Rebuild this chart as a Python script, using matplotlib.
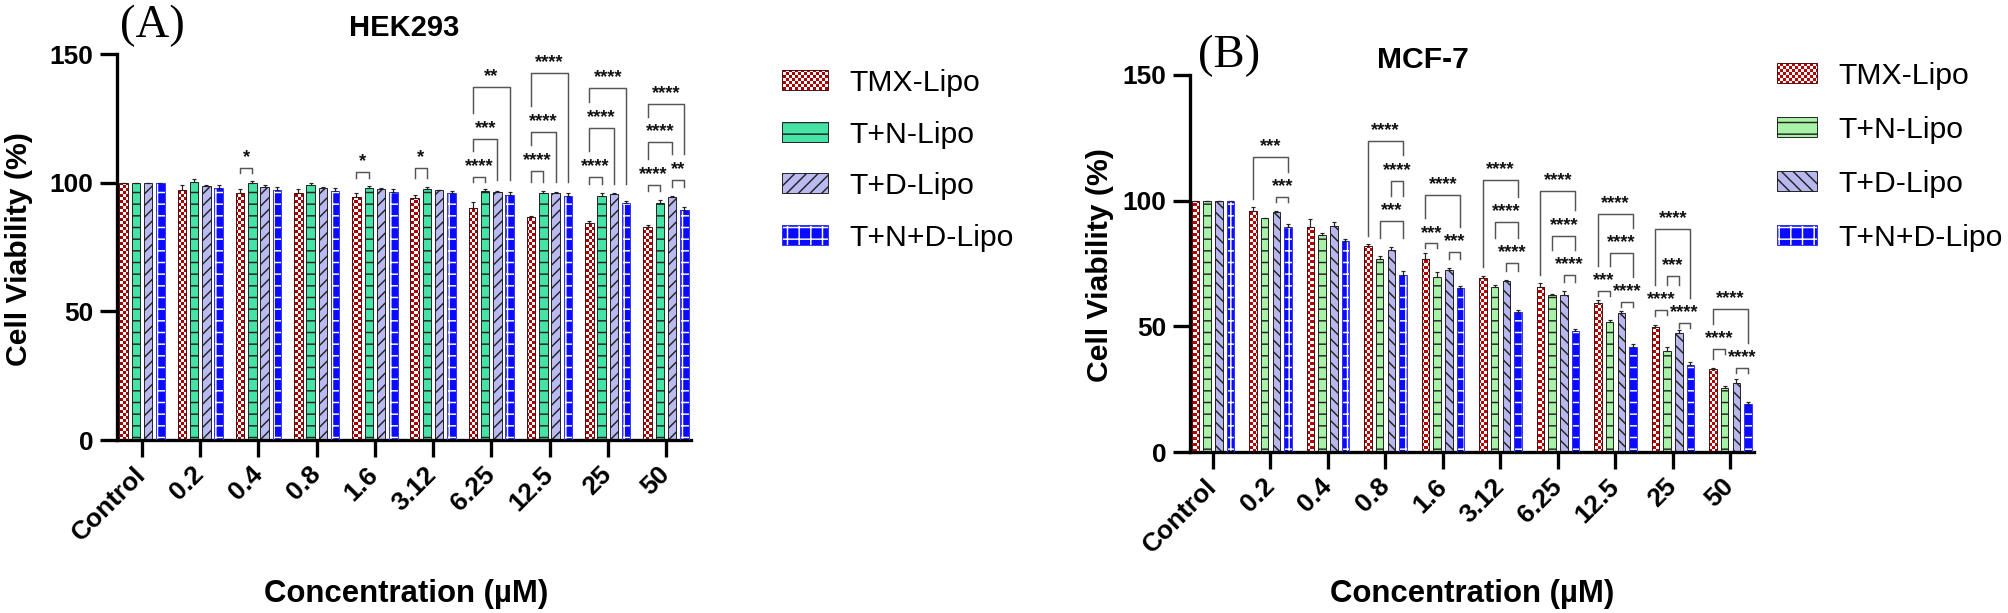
import numpy as np
import matplotlib.pyplot as plt
import matplotlib.colors as mcolors

plt.rcParams['font.family'] = ['Liberation Sans', 'DejaVu Sans']
plt.rcParams['font.weight'] = 'bold'
plt.rcParams['hatch.linewidth'] = 1.5

concentrations = ['Control', '0.2', '0.4', '0.8', '1.6', '3.12', '6.25', '12.5', '25', '50']
formulations = ['TMX-Lipo', 'T+N-Lipo', 'T+D-Lipo', 'T+N+D-Lipo']

# HEK293 cell viability (%)
hek_tmx = [100, 97.0, 96.1, 95.9, 94.6, 93.9, 90.3, 86.7, 84.2, 82.6]
hek_tn = [100, 100.4, 99.8, 99.0, 97.8, 97.4, 96.6, 96.0, 94.8, 92.2]
hek_td = [100, 98.7, 98.5, 98.0, 97.5, 97.0, 96.4, 96.1, 95.5, 94.6]
hek_tnd = [100, 97.9, 97.2, 96.9, 96.5, 96.1, 95.4, 94.8, 92.0, 89.4]
hek_tmx_err = [0, 2.0, 1.5, 1.5, 1.5, 1.5, 2.2, 0.5, 1.0, 1.0]
hek_tn_err = [0, 1.0, 1.0, 0.8, 1.0, 1.0, 1.0, 0.8, 1.0, 1.0]
hek_td_err = [0, 0.5, 0.5, 0.5, 0.3, 0.3, 0.3, 0.3, 0.3, 0.3]
hek_tnd_err = [0, 1.0, 1.0, 1.0, 1.0, 0.8, 1.0, 1.0, 1.0, 1.0]

# MCF-7 cell viability (%)
mcf_tmx = [100, 96.0, 89.6, 82.1, 76.7, 69.4, 65.5, 59.1, 49.9, 33.0]
mcf_tn = [100, 93.0, 86.3, 76.7, 69.8, 65.8, 62.5, 51.9, 40.3, 25.5]
mcf_td = [100, 95.5, 89.9, 80.4, 72.4, 68.0, 62.5, 55.2, 47.4, 27.5]
mcf_tnd = [100, 89.5, 84.1, 70.3, 65.1, 55.8, 48.1, 41.7, 34.5, 19.0]
mcf_tmx_err = [0, 1.3, 3.2, 0.5, 2.4, 0.7, 1.6, 1.2, 0.6, 0.5]
mcf_tn_err = [0, 0.3, 0.9, 1.3, 2.0, 0.5, 0.5, 0.6, 1.3, 0.8]
mcf_td_err = [0, 0.5, 1.7, 1.3, 0.8, 0.5, 1.7, 0.8, 1.2, 1.5]
mcf_tnd_err = [0, 1.4, 0.5, 1.7, 0.9, 0.7, 0.7, 1.2, 1.5, 1.0]

# significance: (concentration index, bar i, bar j, bracket height, stars)
hek_sig = [
    (2, 0, 1, 105.6, '*'),
    (4, 0, 1, 104.0, '*'),
    (5, 0, 1, 105.6, '*'),
    (6, 0, 1, 102.2, '****'), (6, 0, 2, 117.0, '***'), (6, 0, 3, 137.2, '**'),
    (7, 0, 1, 104.5, '****'), (7, 0, 2, 119.8, '****'), (7, 0, 3, 142.7, '****'),
    (8, 0, 1, 102.3, '****'), (8, 0, 2, 121.4, '****'), (8, 0, 3, 136.9, '****'),
    (9, 0, 1, 99.1, '****'), (9, 0, 2, 115.7, '****'), (9, 0, 3, 130.6, '****'),
    (9, 2, 3, 101.0, '**'),
]
mcf_sig = [
    (1, 0, 3, 117.5, '***'), (1, 2, 3, 101.6, '***'),
    (3, 0, 3, 123.8, '****'), (3, 2, 3, 108.0, '****'), (3, 1, 3, 92.0, '***'),
    (4, 0, 3, 102.3, '****'), (4, 0, 1, 83.0, '***'), (4, 2, 3, 79.7, '***'),
    (5, 0, 3, 108.2, '****'), (5, 1, 3, 91.6, '****'), (5, 2, 3, 75.1, '****'),
    (6, 0, 3, 103.9, '****'), (6, 1, 3, 86.1, '****'), (6, 2, 3, 70.4, '****'),
    (7, 0, 3, 94.6, '****'), (7, 1, 3, 79.1, '****'), (7, 0, 1, 64.1, '***'),
    (7, 2, 3, 59.8, '****'),
    (8, 0, 3, 88.7, '****'), (8, 1, 2, 70.2, '***'), (8, 0, 1, 56.5, '****'),
    (8, 2, 3, 51.2, '****'),
    (9, 0, 3, 56.9, '****'), (9, 0, 1, 41.0, '****'), (9, 2, 3, 33.5, '****'),
]

style_a = {'colors': ['#A80000', '#45E3A5', '#BABAF2', '#0B0BFF'],
           'hatches': [None, '-', '//', '+']}
style_b = {'colors': ['#B80000', '#A8F2A8', '#B8B8EE', '#0B0BFF'],
           'hatches': [None, '-', '\\\\', '+']}

W, H, DPI = 2008, 613, 70
fig = plt.figure(figsize=(W / DPI, H / DPI), dpi=DPI)


def checker(nx, ny, color):
    rgb = np.array(mcolors.to_rgb(color))
    ii, jj = np.indices((ny, nx))
    mask = ((ii + jj) % 2 == 0)[..., None]
    return np.where(mask, rgb, np.ones(3))


def paint(ax, x, height, width, bottom, k, style, chk):
    color = style['colors'][k]
    hatch = style['hatches'][k]
    if k == 0:
        bars = ax.bar(x, height, width, bottom=bottom, facecolor='none',
                      edgecolor='#4d0d0d', linewidth=1, zorder=3)
        for r in bars:
            im = ax.imshow(chk[0], extent=chk[1], aspect='auto',
                           interpolation='nearest', zorder=2)
            im.set_clip_path(r)
    elif k == 3:
        ax.bar(x, height, width, bottom=bottom, facecolor=color, edgecolor='white',
               hatch=hatch, linewidth=0, zorder=2)
        ax.bar(x, height, width, bottom=bottom, facecolor='none',
               edgecolor='#3434ff', linewidth=1, zorder=3)
    else:
        ax.bar(x, height, width, bottom=bottom, facecolor=color, edgecolor='#222222',
               hatch=hatch, linewidth=1, zorder=2)


def panel(box, xlim, data, errs, style, sig, pitch, width):
    l, t, r, b = box
    ax = fig.add_axes([l / W, 1 - b / H, (r - l) / W, (b - t) / H])
    chk = (checker(int(round((r - l) / 3)), int(round((b - t) / 3)), style['colors'][0]),
           (xlim[0], xlim[1], 0, 150))
    x = np.arange(len(concentrations))
    tops = []
    for k in range(4):
        xs = x + (k - 1.5) * pitch
        paint(ax, xs, data[k], width, 0, k, style, chk)
        ax.errorbar(xs, data[k], yerr=[np.zeros(len(x)), errs[k]], fmt='none',
                    ecolor='#222222', elinewidth=1.2, capsize=2.5, capthick=1.2, zorder=4)
        tops.append(np.array(data[k]) + np.array(errs[k]))
    tops = np.array(tops)

    def leg_end(g, k, i, j, y):
        lows = [tops[i:j + 1, g].max() + 3.5]
        for g2, i2, j2, y2, lab2 in sig:
            if g2 != g or y2 >= y:
                continue
            if i2 <= k <= j2:
                lows.append(y2 + 4)
            mid = ((i2 + j2) / 2 - 1.5) * pitch
            if abs((k - 1.5) * pitch - mid) <= len(lab2) * 0.065 + 0.05:
                lows.append(y2 + 10)
        return min(max(lows), y - 2)

    for g, i, j, y, lab in sig:
        xi = g + (i - 1.5) * pitch
        xj = g + (j - 1.5) * pitch
        ax.plot([xi, xi, xj, xj], [leg_end(g, i, i, j, y), y, y, leg_end(g, j, i, j, y)],
                color='#555555', lw=1.5, zorder=4, clip_on=False)
        ax.text((xi + xj) / 2, y + 2.3, lab, ha='center', va='baseline',
                fontsize=19, color='#111111', zorder=5, clip_on=False)

    ax.set_xlim(*xlim)
    ax.set_ylim(0, 150)
    ax.spines[['top', 'right']].set_visible(False)
    ax.spines[['left', 'bottom']].set_linewidth(3.4)
    ax.set_yticks([0, 50, 100, 150])
    ax.set_xticks(x)
    ax.set_xticklabels(concentrations, rotation=45, ha='right', va='center',
                       rotation_mode='anchor')
    ax.tick_params(axis='y', length=17.5, width=3.4, pad=7, labelsize=27)
    ax.tick_params(axis='x', length=17.5, width=3.4, pad=14, labelsize=27)
    return ax


panel((117, 54, 691, 440), (-0.43, 9.43),
      [hek_tmx, hek_tn, hek_td, hek_tnd],
      [hek_tmx_err, hek_tn_err, hek_td_err, hek_tnd_err],
      style_a, hek_sig, 0.211, 0.146)
panel((1190, 75, 1754, 452), (-0.40, 9.41),
      [mcf_tmx, mcf_tn, mcf_td, mcf_tnd],
      [mcf_tmx_err, mcf_tn_err, mcf_td_err, mcf_tnd_err],
      style_b, mcf_sig, 0.203, 0.13)

# overlay in pixel coordinates for titles, labels and legends
ov = fig.add_axes([0, 0, 1, 1])
ov.set_axis_off()

legends = [(style_a, 782, 46, [80, 132, 183, 235], 849),
           (style_b, 1777, 40, [73, 127, 181, 235], 1838)]
for style, lx, lw, rows, tx in legends:
    chk = (checker(W // 3, H // 3, style['colors'][0]), (0, W, H, 0))
    for k, cy in enumerate(rows):
        paint(ov, [lx + lw / 2], [20], lw, [cy - 10], k, style, chk)
        ov.text(tx, cy + 11, formulations[k], fontsize=31, fontweight='normal',
                ha='left', va='baseline')

ov.text(404, 36, 'HEK293', ha='center', va='baseline', fontsize=30)
ov.text(1423, 68, 'MCF-7', ha='center', va='baseline', fontsize=31)
ov.text(120, 37, '(A)', ha='left', va='baseline', fontsize=48,
        family=['Liberation Serif', 'DejaVu Serif'], fontweight='normal')
ov.text(1198, 67, '(B)', ha='left', va='baseline', fontsize=48,
        family=['Liberation Serif', 'DejaVu Serif'], fontweight='normal')
for x, y in [(27, 249), (1108, 265)]:
    ov.text(x, y, 'Cell Viability (%)', rotation=90, rotation_mode='anchor',
            ha='center', va='baseline', fontsize=31)
for x in [406, 1472]:
    ov.text(x, 602, 'Concentration (µM)', ha='center', va='baseline', fontsize=32)

ov.set_xlim(0, W)
ov.set_ylim(H, 0)

fig.savefig('out.png', dpi=DPI)
